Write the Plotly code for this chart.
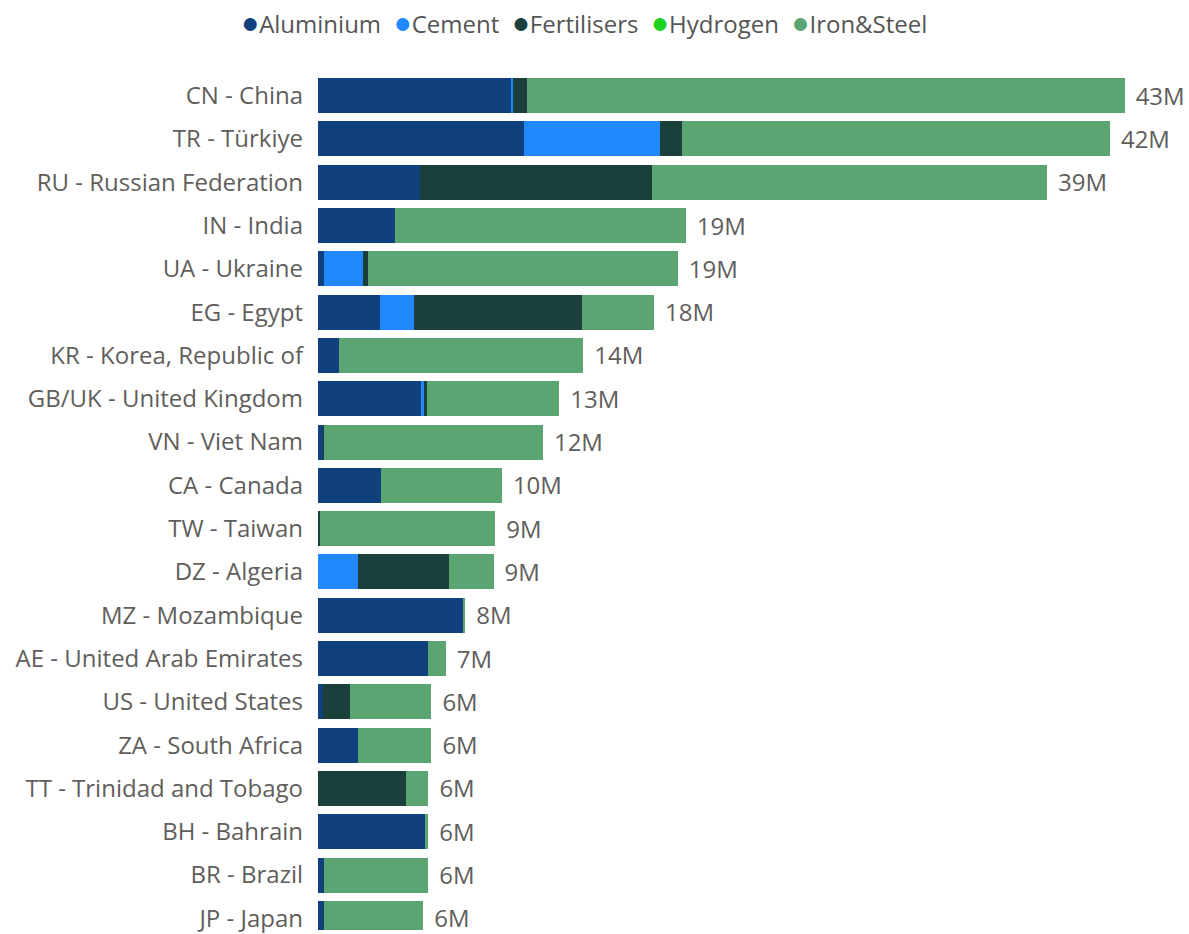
import plotly.graph_objects as go

# Countries, top to bottom
countries = [
    "CN - China", "TR - Türkiye", "RU - Russian Federation", "IN - India",
    "UA - Ukraine", "EG - Egypt", "KR - Korea, Republic of", "GB/UK - United Kingdom",
    "VN - Viet Nam", "CA - Canada", "TW - Taiwan", "DZ - Algeria",
    "MZ - Mozambique", "AE - United Arab Emirates", "US - United States",
    "ZA - South Africa", "TT - Trinidad and Tobago", "BH - Bahrain",
    "BR - Brazil", "JP - Japan",
]

# Values per sector, in millions
aluminium = [10.25, 10.90, 5.41, 4.06, 0.33, 3.30, 1.09, 5.49, 0.28, 3.33,
             0.00, 0.00, 7.69, 5.84, 0.25, 2.10, 0.00, 5.66, 0.33, 0.33]
cement = [0.07, 7.21, 0.00, 0.00, 2.03, 1.78, 0.00, 0.10, 0.00, 0.00,
          0.00, 2.12, 0.00, 0.00, 0.00, 0.00, 0.00, 0.00, 0.00, 0.00]
fertilisers = [0.76, 1.16, 12.28, 0.00, 0.26, 8.87, 0.00, 0.16, 0.05, 0.00,
               0.10, 4.81, 0.00, 0.00, 1.43, 0.00, 4.66, 0.00, 0.00, 0.00]
hydrogen = [0.0] * 20
iron_steel = [31.60, 22.63, 20.88, 15.40, 16.42, 3.83, 12.95, 7.02, 11.57, 6.40,
              9.28, 2.36, 0.10, 0.92, 4.32, 3.90, 1.18, 0.17, 5.50, 5.24]

series = [
    ("Aluminium", aluminium, "#11407E"),
    ("Cement", cement, "#2188FF"),
    ("Fertilisers", fertilisers, "#1B403C"),
    ("Hydrogen", hydrogen, "#1ED21E"),
    ("Iron&Steel", iron_steel, "#5AA572"),
]

totals = [sum(v) for v in zip(aluminium, cement, fertilisers, hydrogen, iron_steel)]
total_labels = [f"{round(t)}M" for t in totals]

FONT = "Segoe UI, Open Sans, sans-serif"
GREY = "#605E5C"
FS = 24

rows = list(range(len(countries)))

fig = go.Figure()
for name, vals, color in series:
    fig.add_trace(go.Bar(
        y=rows, x=vals, name=name, orientation="h",
        marker=dict(color=color, line=dict(width=0)),
        showlegend=False,
    ))

# Total labels at the end of each bar, sitting slightly below the bar centre
label_drop = 0.07
fig.add_trace(go.Scatter(
    y=[r + label_drop for r in rows], x=totals, mode="markers+text",
    text=total_labels, textposition="middle right",
    marker=dict(size=16, color="rgba(0,0,0,0)"),
    textfont=dict(family=FONT, size=FS, color=GREY),
    showlegend=False, cliponaxis=False, hoverinfo="skip",
))

W, H = 1189, 934
L, T = 318, 60
px_per_unit = 18.9
row_px = 43.5
first_center = 95.8

x_max = (W - L) / px_per_unit
y_top = -(first_center - T) / row_px
y_bot = (H - first_center) / row_px

legend_text = "  ".join(
    f'<span style="color:{c};font-size:30px">●</span>{n}' for n, _, c in series
)

fig.update_layout(
    width=W, height=H,
    margin=dict(l=L, r=0, t=T, b=0),
    barmode="stack", bargap=0.19,
    plot_bgcolor="white", paper_bgcolor="white",
    font=dict(family=FONT, size=FS, color=GREY),
    xaxis=dict(range=[0, x_max], visible=False, fixedrange=True),
    yaxis=dict(
        tickmode="array", tickvals=rows, ticktext=countries,
        range=[y_bot, y_top], showgrid=False, zeroline=False,
        showline=False, ticks="", ticklabelstandoff=14,
        ticklabeloverflow="allow",
        tickfont=dict(family=FONT, size=FS, color=GREY),
    ),
    annotations=[dict(
        text=legend_text, xref="paper", yref="paper",
        x=(583.5 - L) / (W - L), y=1 + (T - 21) / (H - T),
        xanchor="center", yanchor="middle", showarrow=False,
        font=dict(family=FONT, size=FS, color="#555555"),
    )],
)

fig.write_html("out.html")
